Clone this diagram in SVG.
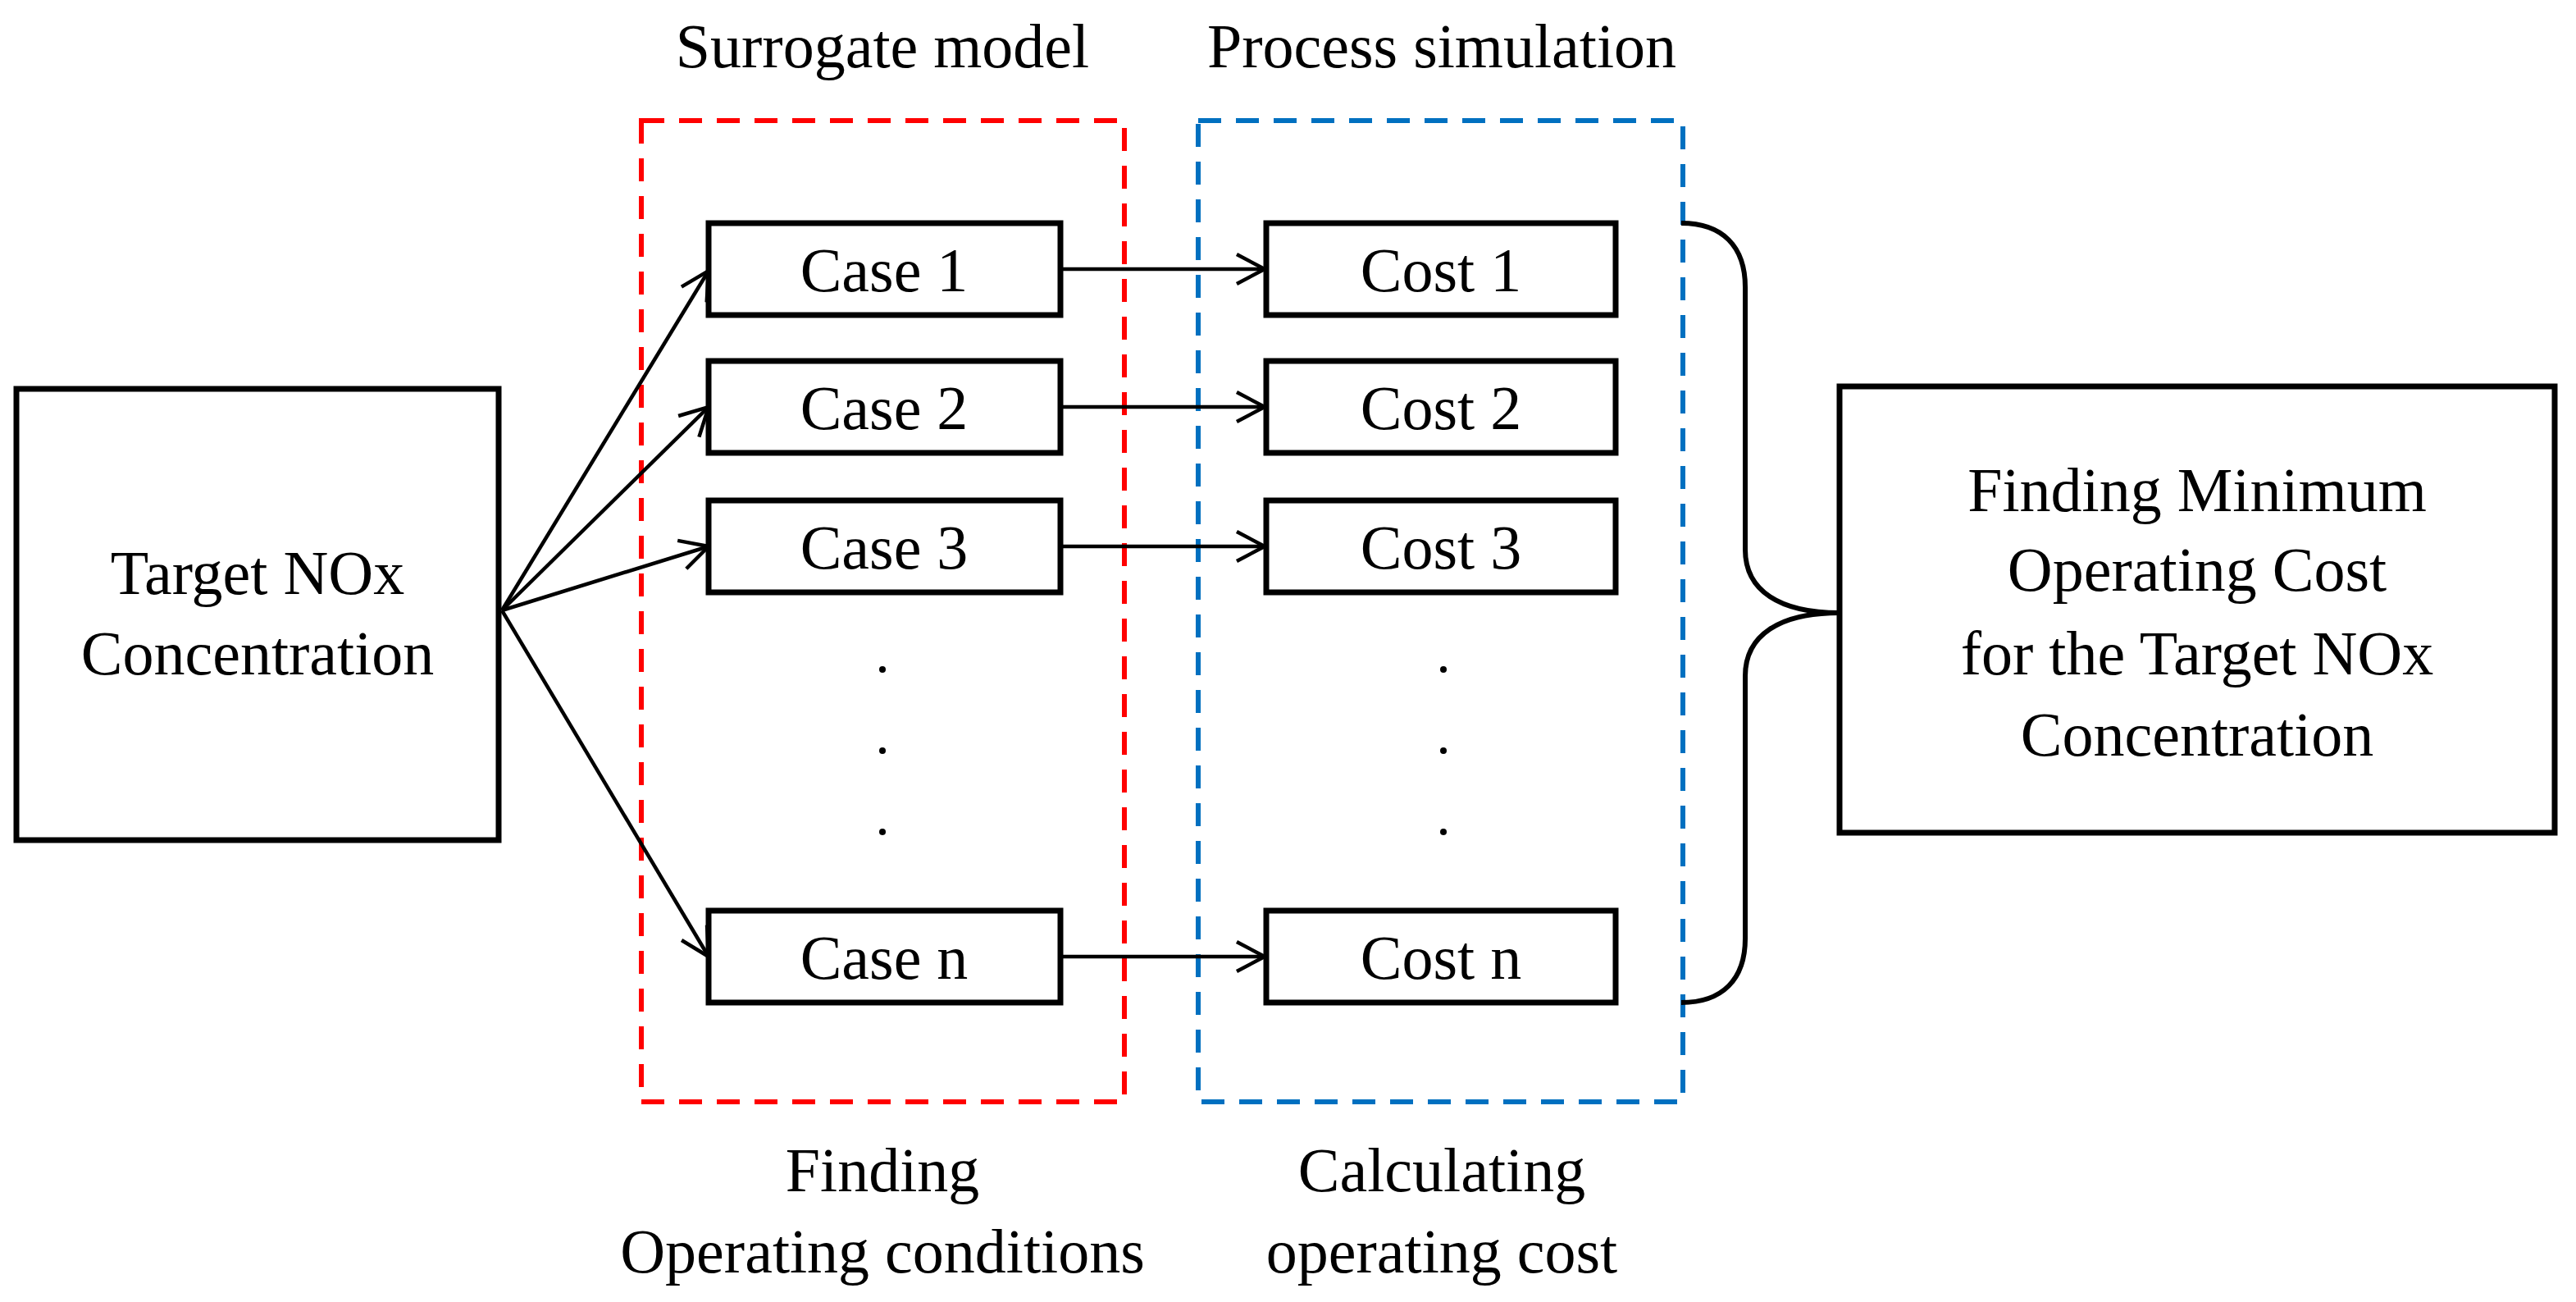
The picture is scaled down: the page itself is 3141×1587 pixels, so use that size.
<svg xmlns="http://www.w3.org/2000/svg" width="3141" height="1587" viewBox="0 0 3141 1587">
<defs>
<style>
text{font-family:"Liberation Serif","Times New Roman",serif;font-size:76px;fill:#000;text-anchor:middle}
.box{fill:#fff;stroke:#000;stroke-width:7}
.conn{stroke:#000;stroke-width:4.5;fill:none;marker-end:url(#ah)}
.dot{fill:#000}
</style>
<marker id="ah" viewBox="0 0 40 40" refX="38" refY="20" markerWidth="40" markerHeight="40" markerUnits="userSpaceOnUse" orient="auto" overflow="visible">
<path d="M4,2 L38,20 L4,38" fill="none" stroke="#000" stroke-width="4.5"/>
</marker>
</defs>
<rect width="3141" height="1587" fill="#fff"/>
<g id="groups">
<rect x="782" y="147" width="589" height="1196" fill="none" stroke="#ff0000" stroke-width="6" stroke-dasharray="28,18"/>
<rect x="1461" y="147" width="591" height="1196" fill="none" stroke="#0070c0" stroke-width="6" stroke-dasharray="28,18"/>
<text x="1076" y="82">Surrogate  model</text>
<text x="1758" y="82">Process simulation</text>
<text x="1076" y="1452">Finding</text>
<text x="1076" y="1551">Operating  conditions</text>
<text x="1758" y="1452">Calculating</text>
<text x="1758" y="1551">operating  cost</text>
</g>
<g id="connectors">
<line class="conn" x1="612" y1="744" x2="864" y2="330"/>
<line class="conn" x1="612" y1="744" x2="864" y2="496"/>
<line class="conn" x1="612" y1="744" x2="864" y2="666"/>
<line class="conn" x1="612" y1="744" x2="864" y2="1166"/>
<line class="conn" x1="1293" y1="328" x2="1542" y2="328"/>
<line class="conn" x1="1293" y1="496" x2="1542" y2="496"/>
<line class="conn" x1="1293" y1="666" x2="1542" y2="666"/>
<line class="conn" x1="1293" y1="1166" x2="1542" y2="1166"/>
<path d="M2050,272 C2100,272 2128,300 2128,350 L2128,670 C2128,720 2170,747 2243,747 C2170,747 2128,774 2128,824 L2128,1144 C2128,1194 2100,1222 2050,1222" fill="none" stroke="#000" stroke-width="6"/>
</g>
<g id="target">
<rect class="box" x="20" y="474" width="588" height="550"/>
<text x="314" y="724">Target  NOx</text>
<text x="314" y="822">Concentration</text>
</g>
<g id="case1"><rect class="box" x="864" y="272" width="429" height="112"/><text x="1078" y="355">Case 1</text></g>
<g id="case2"><rect class="box" x="864" y="440" width="429" height="112"/><text x="1078" y="523">Case 2</text></g>
<g id="case3"><rect class="box" x="864" y="610" width="429" height="112"/><text x="1078" y="693">Case 3</text></g>
<g id="casen"><rect class="box" x="864" y="1110" width="429" height="112"/><text x="1078" y="1193">Case n</text></g>
<g id="cost1"><rect class="box" x="1544" y="272" width="426" height="112"/><text x="1757" y="355">Cost 1</text></g>
<g id="cost2"><rect class="box" x="1544" y="440" width="426" height="112"/><text x="1757" y="523">Cost 2</text></g>
<g id="cost3"><rect class="box" x="1544" y="610" width="426" height="112"/><text x="1757" y="693">Cost 3</text></g>
<g id="costn"><rect class="box" x="1544" y="1110" width="426" height="112"/><text x="1757" y="1193">Cost n</text></g>
<g id="dots">
<circle class="dot" cx="1076" cy="816" r="4"/><circle class="dot" cx="1076" cy="915" r="4"/><circle class="dot" cx="1076" cy="1014" r="4"/>
<circle class="dot" cx="1760" cy="816" r="4"/><circle class="dot" cx="1760" cy="915" r="4"/><circle class="dot" cx="1760" cy="1014" r="4"/>
</g>
<g id="result">
<rect class="box" x="2243" y="471" width="872" height="544"/>
<text x="2679" y="623">Finding  Minimum</text>
<text x="2679" y="720">Operating  Cost</text>
<text x="2679" y="822">for the Target NOx</text>
<text x="2679" y="921">Concentration</text>
</g>
</svg>
